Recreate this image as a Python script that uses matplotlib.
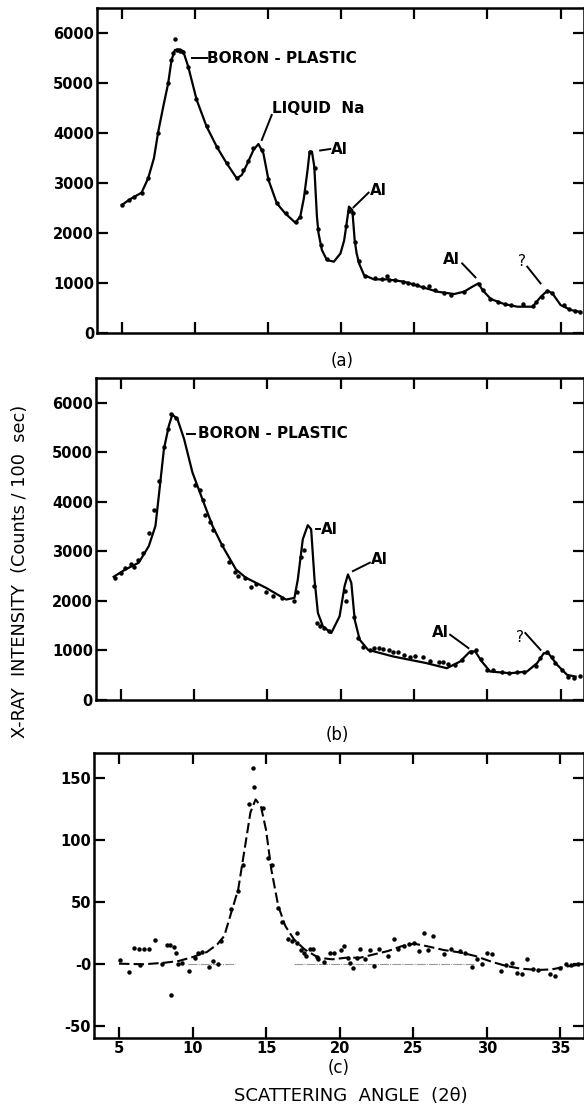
import numpy as np
import matplotlib.pyplot as plt

# ---- panel (a): solid fit curve and measured points ----
a_curve_x = [5.0, 5.55, 6.35, 6.8, 7.2, 7.49, 7.85, 8.17, 8.4, 8.63, 8.98, 9.2, 9.54, 10.12, 10.8,
             11.49, 12.17, 12.86, 13.2, 13.54, 14.0, 14.34, 14.68, 15.03, 15.6, 16.17, 16.86,
             17.2, 17.45, 17.7, 17.84, 18.0, 18.16, 18.34, 18.45, 18.68, 19.02, 19.5, 19.95,
             20.2, 20.4, 20.53, 20.76, 20.92, 21.05, 21.22, 21.56, 22.24, 23.16, 24.3, 25.44,
             26.58, 27.72, 28.4, 28.97, 29.38, 29.66, 30.23, 31.14, 32.05, 33.08, 33.65, 34.1,
             34.44, 35.0, 35.7, 36.27]
a_curve_y = [2560, 2673, 2807, 3093, 3500, 4027, 4550, 4993, 5460, 5660, 5673, 5633, 5327, 4660, 4127,
             3727, 3393, 3093, 3160, 3360, 3660, 3780, 3593, 3060, 2593, 2393, 2207,
             2327, 2700, 3260, 3627, 3627, 3327, 2330, 1993, 1660, 1460, 1427, 1593,
             1850, 2250, 2527, 2460, 1860, 1600, 1393, 1160, 1073, 1073, 1027, 927,
             827, 780, 827, 927, 993, 860, 680, 580, 527, 527, 727, 847,
             793, 560, 460, 427]
a_dots_x = [5.0, 5.5, 5.8, 6.4, 6.8, 7.45, 8.15, 8.35, 8.5, 8.65, 8.8, 9.0, 9.2, 9.5, 10.1, 10.8,
            11.5, 12.2, 12.9, 13.3, 13.6, 14.0, 14.6, 15.0, 15.6, 16.2, 16.9, 17.2, 17.6, 17.9,
            18.2, 18.4, 18.6, 19.0, 20.3, 20.5, 20.8, 20.95, 21.2, 21.6, 22.3, 22.8, 23.1, 23.3,
            23.7, 24.2, 24.6, 24.9, 25.2, 25.6, 26.0, 26.4, 27.0, 27.5, 28.4, 29.4, 29.7, 30.2,
            30.7, 31.2, 31.6, 32.4, 33.1, 33.3, 33.7, 34.1, 34.4, 35.2, 35.6, 36.0, 36.3]
a_dots_y = [2560, 2660, 2720, 2800, 3100, 4000, 5000, 5450, 5600, 5870, 5650, 5640, 5620, 5320, 4680, 4140,
            3720, 3390, 3100, 3270, 3440, 3700, 3660, 3080, 2600, 2400, 2220, 2320, 2830, 3620,
            3300, 2080, 1760, 1480, 2150, 2450, 2400, 1820, 1440, 1140, 1100, 1080, 1150, 1070,
            1060, 1030, 1000, 980, 960, 920, 950, 860, 800, 770, 830, 990, 860, 680,
            620, 580, 560, 580, 540, 620, 720, 840, 800, 560, 480, 450, 430]

# ---- panel (b) ----
b_curve_x = [4.52, 5.32, 6.23, 6.92, 7.37, 7.6, 7.95, 8.29, 8.52, 8.86, 9.32, 9.89, 10.57, 11.26,
             11.94, 12.86, 13.54, 14.91, 16.28, 16.85, 17.08, 17.42, 17.76, 17.99, 18.22, 18.45,
             18.79, 19.36, 19.93, 20.27, 20.5, 20.73, 20.96, 21.3, 21.87, 23.58, 25.87, 27.24,
             28.15, 28.83, 29.18, 29.63, 30.2, 31.57, 32.71, 33.4, 33.86, 34.2, 34.77, 35.45, 36.03]
b_curve_y = [2488, 2636, 2772, 3109, 3515, 4123, 5070, 5543, 5760, 5679, 5273, 4597, 4056, 3515,
             3109, 2636, 2468, 2265, 2028, 2062, 2434, 3245, 3529, 3447, 2434, 1758,
             1487, 1352, 1690, 2298, 2535, 2366, 1622, 1217, 1014, 879, 744, 642,
             777, 980, 980, 777, 575, 541, 575, 744, 946, 933, 710, 507, 473]
b_dots_x = [4.6, 5.0, 5.3, 5.7, 5.9, 6.2, 6.5, 6.9, 7.3, 7.6, 7.95, 8.2, 8.4, 8.8, 10.1, 10.4, 10.6,
            10.75, 11.1, 11.3, 11.9, 12.4, 12.8, 13.0, 13.5, 13.9, 14.2, 14.9, 15.4, 16.0, 16.8,
            17.0, 17.3, 17.5, 18.2, 18.4, 18.6, 18.9, 19.2, 20.3, 20.35, 20.9, 21.2, 21.5, 22.0,
            22.3, 22.6, 22.9, 23.3, 23.6, 23.9, 24.3, 24.7, 25.1, 25.6, 26.1, 26.7, 27.0, 27.3,
            27.8, 28.3, 28.9, 29.2, 29.6, 30.0, 30.4, 31.0, 31.5, 32.0, 32.5, 33.3, 33.6, 34.1,
            34.4, 34.6, 35.1, 35.5, 35.9, 36.3]
b_dots_y = [2470, 2560, 2660, 2740, 2690, 2820, 2970, 3380, 3830, 4420, 5100, 5480, 5770, 5700, 4350,
            4230, 4030, 3740, 3600, 3440, 3120, 2780, 2580, 2500, 2470, 2290, 2350, 2190, 2100,
            2050, 2000, 2180, 2890, 3020, 2300, 1550, 1490, 1450, 1390, 2200, 2000, 1680, 1250,
            1080, 1000, 1060, 1040, 1020, 1000, 970, 960, 900, 870, 880, 860, 780, 770, 760, 720,
            700, 800, 960, 1000, 820, 610, 600, 570, 540, 560, 560, 680, 850, 960, 870, 750, 600,
            470, 440, 480]

# ---- panel (c): difference, dashed fit ----
c_curve_x = [5.0, 6.7, 8.13, 9.07, 10.02, 10.97, 11.68, 12.15, 12.62, 13.1, 13.57, 13.93, 14.28,
             14.64, 14.99, 15.35, 15.82, 16.3, 16.89, 17.6, 18.55, 19.49, 20.44, 21.39, 22.33,
             23.28, 24.23, 25.06, 25.89, 27.07, 28.25, 29.2, 30.38, 31.33, 32.28, 33.46, 34.41,
             35.36, 36.54]
c_curve_y = [0, -0.5, 0.8, 2.2, 5.4, 9.4, 15.6, 22.3, 41, 60, 95, 122, 132.5,
             127, 108, 76, 46.5, 30.4, 19.6, 11.6, 4.8, 3.5, 4.8, 4.8, 7.5,
             10.2, 14.2, 16.1, 14.2, 11, 8.9, 6.2, 1.3, -1.9, -4, -5.1, -4.6,
             -2.4, -0.5]
c_dots_x = [5.05, 5.71, 6.0, 6.35, 6.7, 7.06, 7.42, 6.4, 7.9, 8.24, 8.48, 8.72, 8.55, 8.84, 9.03,
            9.31, 9.74, 10.14, 10.38, 10.61, 11.09, 11.37, 11.73, 11.91, 12.62, 13.1, 13.4, 13.81,
            14.16, 14.09, 14.76, 15.11, 15.42, 15.82, 16.1, 16.46, 16.77, 17.12, 17.12, 17.4, 17.6,
            17.72, 17.95, 18.19, 18.43, 18.55, 18.9, 19.37, 19.6, 20.08, 20.32, 20.56, 20.68,
            20.91, 21.2, 21.39, 21.74, 22.05, 22.33, 22.69, 23.28, 23.71, 23.99, 24.35, 24.7,
            25.06, 25.41, 25.72, 26.0, 26.36, 27.07, 27.54, 28.14, 28.49, 28.96, 29.32, 29.67,
            30.03, 30.34, 30.98, 31.33, 31.69, 32.04, 32.4, 32.75, 33.11, 33.46, 34.29, 34.65,
            35.0, 35.36, 35.71, 36.19]
c_dots_y = [2.7, -6.7, 12.6, 11.6, 12.1, 12.1, 19, -1.3, -0.5, 15, 15, 13.7, -25.5, 8.3, -0.5,
            0.3, -5.9, 4.8, 8.9, 9.4, -2.4, 2.2, -0.5, 18.3, 43.8, 58.6, 80, 128.5,
            142.5, 158, 125.8, 85.5, 80, 45, 33.6, 19.6, 18.3, 25, 17, 11, 8.3,
            6.2, 12.1, 12.1, 5.6, 3.5, 1.3, 8.3, 8.3, 11, 14.2, 4.8, 0.8,
            -3.2, 4.8, 12.1, 3.5, 11, -1.9, 12.1, 6.2, 20.2, 12.1, 14.2, 15.6,
            17, 10.2, 25, 11, 22.3, 7.5, 11.6, 10.2, 8.9, -2.4, 3.5, -0.5,
            8.3, 7.5, -5.9, -1.3, 0.8, -7.3, -8.6, 3.5, -4.6, -5.1, -8.6, -9.9,
            -3.2, -0.5, -1.3, -0.5]
c_base_segments = [(9.7, 12.9), (16.9, 29.1)]

x_ticks = [5, 10, 15, 20, 25, 30, 35]
intensity_ticks = [0, 1000, 2000, 3000, 4000, 5000, 6000]
diff_ticks = [-50, 0, 50, 100, 150]
diff_labels = ['-50', '-0', '50', '100', '150']

plt.rcParams['font.family'] = ['DejaVu Sans']

fig = plt.figure(figsize=(5.84, 11.05), dpi=100)
ax_a = fig.add_axes([0.166, 0.6986, 0.834, 0.2942])
ax_b = fig.add_axes([0.164, 0.3665, 0.836, 0.2914])
ax_c = fig.add_axes([0.161, 0.0606, 0.839, 0.2580])

def style(ax, yticks, show_xlabels):
    ax.set_xlim(3.3, 36.6)
    ax.set_xticks(x_ticks)
    ax.set_yticks(yticks)
    ax.tick_params(direction='in', top=True, right=True, length=8, width=1.6,
                   labelsize=10.5, pad=2)
    for lab in ax.get_yticklabels() + ax.get_xticklabels():
        lab.set_fontweight('bold')
    if not show_xlabels:
        ax.set_xticklabels([])
    for sp in ax.spines.values():
        sp.set_linewidth(1.8)

kw_ann = dict(fontsize=11, fontweight='bold', color='black')

# (a)
ax_a.plot(a_curve_x, a_curve_y, color='black', lw=1.6)
ax_a.plot(a_dots_x, a_dots_y, 'o', color='black', ms=2.2)
ax_a.set_ylim(0, 6500)
style(ax_a, intensity_ticks, False)
ax_a.plot([9.77, 10.8], [5493, 5493], color='black', lw=1.4)
ax_a.text(10.85, 5493, 'BORON - PLASTIC', va='center', ha='left', **kw_ann)
ax_a.text(15.3, 4490, 'LIQUID  Na', va='center', ha='left', **kw_ann)
ax_a.plot([15.25, 14.57], [4360, 3860], color='black', lw=1.4)
ax_a.plot([18.56, 19.25], [3650, 3680], color='black', lw=1.4)
ax_a.text(19.3, 3660, 'Al', va='center', ha='left', **kw_ann)
ax_a.text(21.95, 2850, 'Al', va='center', ha='left', **kw_ann)
ax_a.plot([21.87, 20.84], [2807, 2513], color='black', lw=1.4)
ax_a.text(27.5, 1480, 'Al', va='center', ha='center', **kw_ann)
ax_a.plot([28.27, 29.18], [1393, 1113], color='black', lw=1.4)
ax_a.text(32.38, 1440, '?', va='center', ha='center', fontsize=11, color='black')
ax_a.plot([32.72, 33.63], [1327, 993], color='black', lw=1.4)

# (b)
ax_b.plot(b_curve_x, b_curve_y, color='black', lw=1.6)
ax_b.plot(b_dots_x, b_dots_y, 'o', color='black', ms=2.2)
ax_b.set_ylim(0, 6500)
style(ax_b, intensity_ticks, False)
ax_b.plot([9.54, 10.1], [5374, 5374], color='black', lw=1.4)
ax_b.text(10.3, 5374, 'BORON - PLASTIC', va='center', ha='left', **kw_ann)
ax_b.plot([18.33, 18.56], [3448, 3448], color='black', lw=1.4)
ax_b.text(18.65, 3448, 'Al', va='center', ha='left', **kw_ann)
ax_b.text(22.05, 2840, 'Al', va='center', ha='left', **kw_ann)
ax_b.plot([21.99, 20.84], [2772, 2602], color='black', lw=1.4)
ax_b.text(26.8, 1370, 'Al', va='center', ha='center', **kw_ann)
ax_b.plot([27.47, 28.72], [1318, 1048], color='black', lw=1.4)
ax_b.text(32.26, 1260, '?', va='center', ha='center', fontsize=11, color='black')
ax_b.plot([32.6, 33.63], [1352, 1014], color='black', lw=1.4)

# (c)
for x0, x1 in c_base_segments:
    ax_c.plot([x0, x1], [0, 0], color='#999999', lw=0.8, ls=(0, (8, 1, 1, 1)))
ax_c.plot(c_curve_x, c_curve_y, color='black', lw=1.5, ls=(0, (5, 2)))
ax_c.plot(c_dots_x, c_dots_y, 'o', color='black', ms=2.2)
ax_c.set_ylim(-60, 170)
style(ax_c, diff_ticks, True)
ax_c.set_yticklabels(diff_labels, fontweight='bold')

fig.text(0.585, 0.673, '(a)', ha='center', va='center', fontsize=12)
fig.text(0.578, 0.335, '(b)', ha='center', va='center', fontsize=12)
fig.text(0.58, 0.0335, '(c)', ha='center', va='center', fontsize=12)
fig.text(0.6, 0.0085, 'SCATTERING  ANGLE  (2θ)', ha='center', va='center', fontsize=13)
fig.text(0.034, 0.483, 'X-RAY  INTENSITY  (Counts / 100  sec)', ha='center', va='center',
         rotation=90, fontsize=12.8)

fig.savefig('out.png', dpi=100)
